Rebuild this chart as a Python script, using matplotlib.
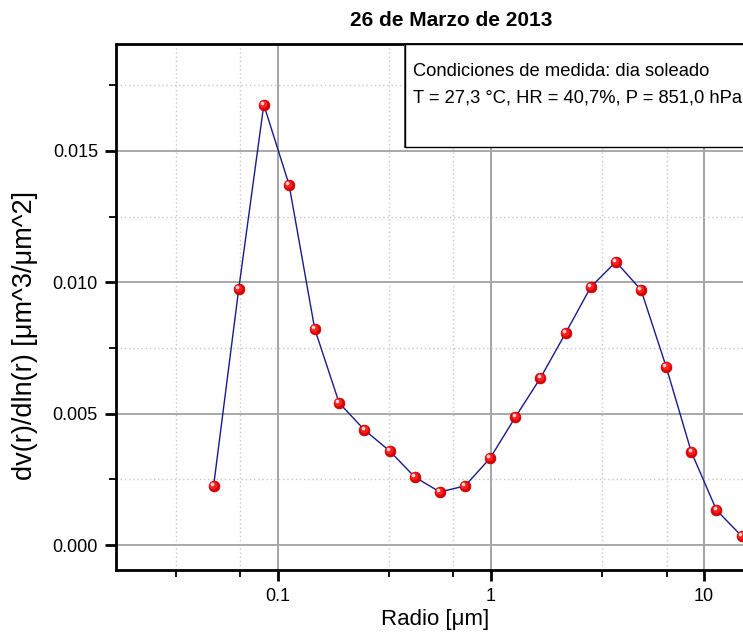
import matplotlib
matplotlib.use("Agg")
import matplotlib.pyplot as plt
from matplotlib.patches import Rectangle
from matplotlib.ticker import FixedLocator, NullFormatter, FixedFormatter
from matplotlib.transforms import offset_copy

radius = [0.050, 0.0656, 0.086, 0.113, 0.149, 0.194, 0.255, 0.335, 0.439, 0.576,
          0.756, 0.992, 1.302, 1.708, 2.241, 2.940, 3.857, 5.061, 6.641, 8.713,
          11.432, 14.999]
dvdlnr = [0.00225, 0.00975, 0.01676, 0.01371, 0.00823, 0.00541, 0.00438, 0.00358,
          0.00259, 0.00202, 0.00225, 0.00331, 0.00487, 0.00636, 0.00807, 0.00982,
          0.01078, 0.00971, 0.00678, 0.00354, 0.00133, 0.00034]
x_ticks = [0.1, 1, 10]
x_ticklabels = ["0.1", "1", "10"]
y_ticks = [0.000, 0.005, 0.010, 0.015]
y_ticklabels = ["0.000", "0.005", "0.010", "0.015"]
title = "26 de Marzo de 2013"
box_lines = ["Condiciones de medida: dia soleado",
             "T = 27,3 °C, HR = 40,7%, P = 851,0 hPa"]

plt.rcParams['font.family'] = ["Liberation Sans", "DejaVu Sans"]

W, H = 743, 637
fig = plt.figure(figsize=(W / 100, H / 100), dpi=100)
L, R, T, B = 116, 771, 44, 570
ax = fig.add_axes([L / W, 1 - B / H, (R - L) / W, (B - T) / H])
ax.set_xscale('log')
ax.set_xlim(0.01742, 20.6)
ax.set_ylim(-0.00095, 0.01907)

minor_x = [f * m for f in (0.01, 0.1, 1, 10) for m in (10 / 3, 20 / 3)]
ax.xaxis.set_major_locator(FixedLocator(x_ticks))
ax.xaxis.set_major_formatter(FixedFormatter(x_ticklabels))
ax.xaxis.set_minor_locator(FixedLocator(minor_x))
ax.xaxis.set_minor_formatter(NullFormatter())
ax.yaxis.set_major_locator(FixedLocator(y_ticks))
ax.yaxis.set_major_formatter(FixedFormatter(y_ticklabels))
ax.yaxis.set_minor_locator(FixedLocator([0.0025, 0.0075, 0.0125, 0.0175]))

ax.grid(which='major', axis='y', color='#a8a8a8', linewidth=1.4, linestyle='-', zorder=0)
ax.grid(which='major', axis='x', color='#8c8c8c', linewidth=1.1, linestyle='-', zorder=0)
ax.grid(which='minor', color='#c8c8c8', linewidth=1.0, linestyle=(0, (1, 2)), zorder=0)
ax.set_axisbelow(True)

for s in ('left', 'bottom', 'top'):
    ax.spines[s].set_linewidth(2)
    ax.spines[s].set_color('black')
ax.spines['right'].set_visible(False)

ax.tick_params(which='major', direction='out', length=8, width=2, labelsize=13,
               top=False, right=False)
ax.tick_params(axis='y', which='major', pad=5)
ax.tick_params(axis='x', which='major', pad=5)
ax.tick_params(which='minor', direction='out', length=5, width=1.3, top=False, right=False)

# data
ax.plot(radius, dvdlnr, color='#1a1a8c', linewidth=1.0, zorder=3, clip_on=False)
ax.plot(radius, dvdlnr, linestyle='none', marker='o', markersize=7.8,
        markerfacecolor='#d80000', markeredgecolor='#c00000', markeredgewidth=0.5,
        zorder=4, clip_on=False)
tr1 = offset_copy(ax.transData, fig=fig, x=-0.5, y=0.5, units='points')
ax.plot(radius, dvdlnr, linestyle='none', marker='o', markersize=5.6, transform=tr1,
        markerfacecolor='#ff2020', markeredgewidth=0, zorder=5, clip_on=False)
tr2 = offset_copy(ax.transData, fig=fig, x=-1.3, y=1.3, units='points')
ax.plot(radius, dvdlnr, linestyle='none', marker='o', markersize=2.6, transform=tr2,
        markerfacecolor='#ffd8d8', markeredgewidth=0, zorder=6, clip_on=False)

ax.set_xlabel("Radio [μm]", fontsize=16)
ax.xaxis.set_label_coords((435 - L) / (R - L), -(620 - B) / (B - T))
ax.xaxis.label.set_va('center')
ax.set_ylabel("dv(r)/dln(r) [μm^3/μm^2]", fontsize=19.5)
ax.yaxis.set_label_coords(-(L - 25) / (R - L), (B - 336) / (B - T))
ax.yaxis.label.set_va('center')
fig.text(451 / W, 1 - 20 / H, title, ha='center', va='center',
         fontsize=15, fontweight='bold')

# annotation box
bx0, by0, bx1, by1 = 405, 44, 800, 147
fig.patches.append(Rectangle(((bx0 - 1) / W, 1 - (by1 + 1) / H), (bx1 - bx0) / W,
                             (by1 - by0) / H, transform=fig.transFigure,
                             facecolor='#555555', edgecolor='none', zorder=5))
fig.patches.append(Rectangle((bx0 / W, 1 - by1 / H), (bx1 - bx0) / W,
                             (by1 - by0) / H, transform=fig.transFigure,
                             facecolor='white', edgecolor='black', linewidth=1.0, zorder=6))
fig.text(413 / W, 1 - 72 / H, box_lines[0], ha='left', va='center', fontsize=13.2, zorder=7)
fig.text(413 / W, 1 - 98 / H, box_lines[1], ha='left', va='center', fontsize=13.2, zorder=7)

fig.savefig("out.png", dpi=100)
